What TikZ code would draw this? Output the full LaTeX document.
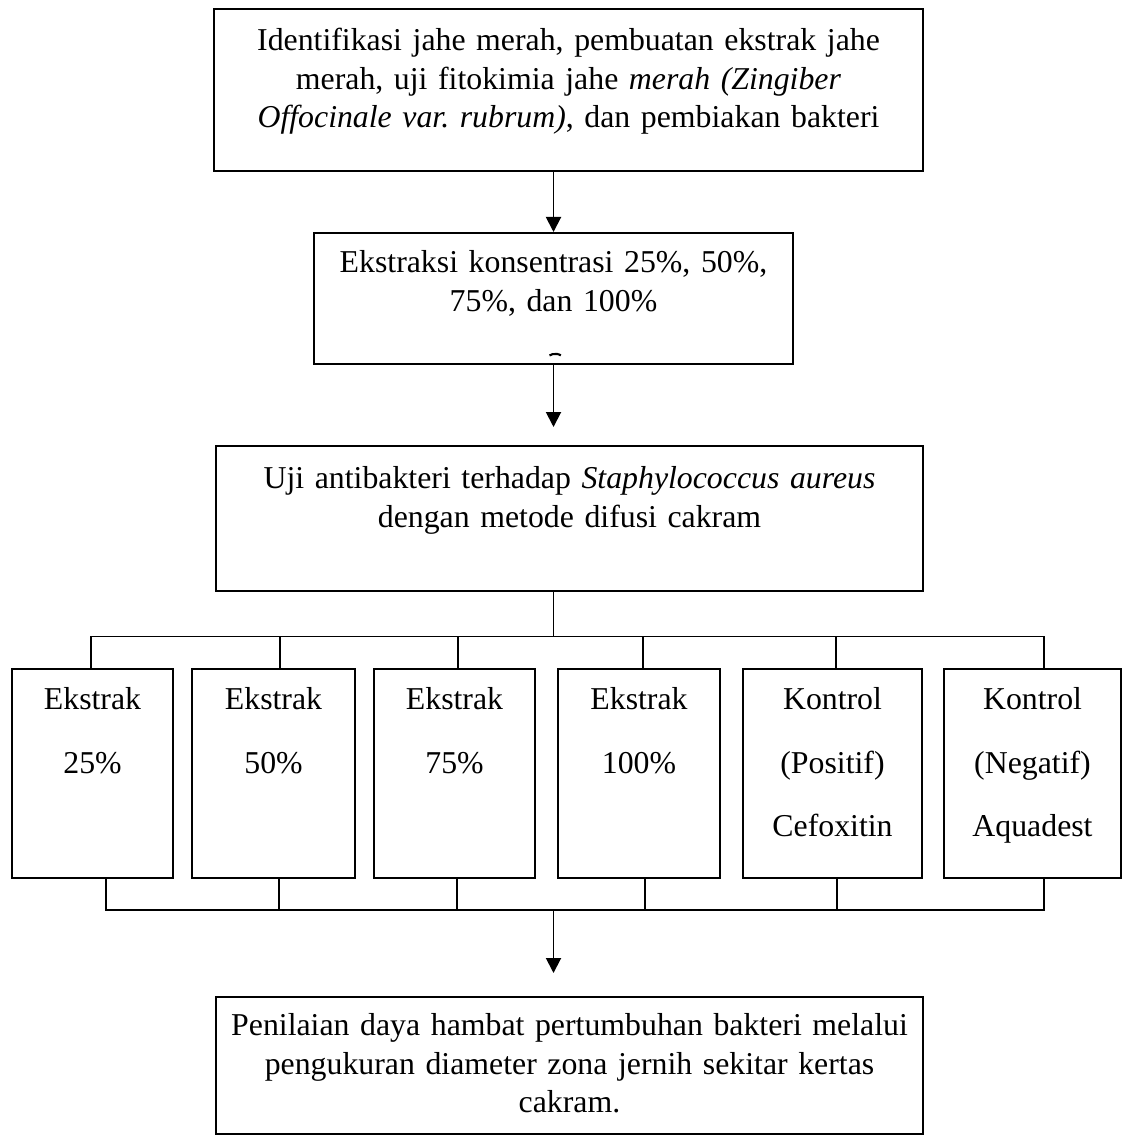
\documentclass[tikz,border=0pt]{standalone}
\usepackage{fontspec}
\setmainfont{Liberation Serif}
\usetikzlibrary{arrows.meta}
\frenchspacing

\begin{document}
\begin{tikzpicture}[
    font=\fontsize{18.1}{21.8}\selectfont,
    line width=1.1pt,
    mainbox/.style={draw, align=center, inner sep=0pt, anchor=north},
    smallbox/.style={draw, align=center, inner sep=0pt, anchor=north, text width=#1,
      text height=0.82cm, text depth=3.36cm, font=\fontsize{18.1}{35.9}\selectfont},
    arr/.style={-{Triangle[length=0.30cm, width=0.30cm]}},
    link/.style={line cap=rect}
]

\useasboundingbox (0,0) rectangle (22.46,-22.70);

\def\rowtop{-13.36}

% Tahap persiapan
\node[mainbox, text width=14.18cm, text height=0.84cm, text depth=2.40cm] (ident) at (11.37,-0.16)
  {Identifikasi jahe merah, pembuatan ekstrak jahe\\
   merah, uji fitokimia jahe \textit{merah (Zingiber}\\
   \textit{Offocinale var. rubrum)}, dan pembiakan bakteri};
\node[mainbox, text width=9.58cm, text height=0.80cm, text depth=1.82cm] (ekstraksi) at (11.07,-4.64)
  {Ekstraksi konsentrasi 25\%, 50\%,\\ 75\%, dan 100\%};
\draw[line width=1.2pt] (10.99,-7.11) arc[start angle=160, end angle=20, x radius=0.12cm, y radius=0.05cm];
\node[mainbox, text width=14.14cm, text height=0.86cm, text depth=2.04cm] (uji) at (11.39,-8.90)
  {Uji antibakteri terhadap \textit{Staphylococcus aureus}\\ dengan metode difusi cakram};

\draw[arr] (ident.south -| ekstraksi.north) -- (ekstraksi.north);
\draw[arr, shorten >=0.36cm] (ekstraksi.south) -- (ekstraksi.south |- uji.north);

% Kelompok perlakuan
\node[smallbox=3.22cm] (b1) at (1.85,\rowtop) {Ekstrak\\ 25\%};
\node[smallbox=3.26cm] (b2) at (5.47,\rowtop) {Ekstrak\\ 50\%};
\node[smallbox=3.22cm] (b3) at (9.09,\rowtop) {Ekstrak\\ 75\%};
\node[smallbox=3.24cm] (b4) at (12.78,\rowtop) {Ekstrak\\ 100\%};
\node[smallbox=3.58cm] (b5) at (16.65,\rowtop) {Kontrol\\ (Positif)\\ Cefoxitin};
\node[smallbox=3.54cm] (b6) at (20.65,\rowtop) {Kontrol\\ (Negatif)\\ Aquadest};

\coordinate (split) at (11.07,-12.73);
\coordinate (join) at (11.07,-18.20);

\draw[link] (uji.south -| split) -- (split);
\draw[link] ([xshift=-0.03cm]b1.north |- split) -- ([xshift=0.23cm]b6.north |- split);
\draw[link] ([xshift=0.27cm]b1.south |- join) -- ([xshift=0.23cm]b6.south |- join);
\foreach \b/\t/\s in {b1/-0.03/0.27, b2/0.13/0.11, b3/0.07/0.05, b4/0.08/0.12, b5/0.07/0.09, b6/0.23/0.23}{
  \draw[link] ([xshift=\t cm]\b.north) -- ([xshift=\t cm]\b.north |- split);
  \draw[link] ([xshift=\s cm]\b.south) -- ([xshift=\s cm]\b.south |- join);
}

% Penilaian hasil
\node[mainbox, text width=14.14cm, text height=0.78cm, text depth=1.96cm] (nilai) at (11.39,-19.92)
  {Penilaian daya hambat pertumbuhan bakteri melalui\\
   pengukuran diameter zona jernih sekitar kertas\\ cakram.};
\draw[arr, shorten >=0.46cm] (join) -- (join |- nilai.north);

\end{tikzpicture}
\end{document}
